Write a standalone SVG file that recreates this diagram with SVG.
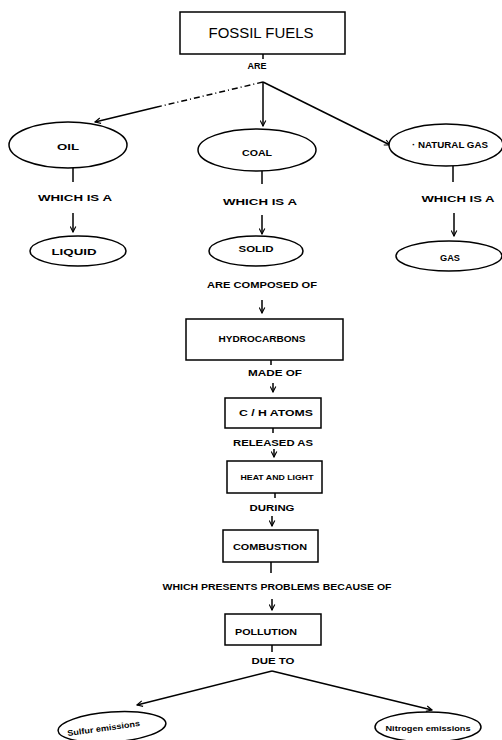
<svg xmlns="http://www.w3.org/2000/svg" width="502" height="740" viewBox="0 0 502 740">
<defs>
<marker id="ah" viewBox="0 0 10 10" refX="9" refY="5" markerWidth="7" markerHeight="7" orient="auto" markerUnits="userSpaceOnUse">
<path d="M1,1 L9,5 L1,9" fill="none" stroke="#000" stroke-width="1.6"/>
</marker>
</defs>
<style>
.n{fill:#fff;stroke:#000;stroke-width:1.5}
.c{fill:none;stroke:#000;stroke-width:1.5}
.t{font-family:"Liberation Sans",Arial,sans-serif;font-weight:bold;font-size:9px;fill:#000;text-anchor:middle}
.big{font-family:"Liberation Sans",Arial,sans-serif;font-size:14px;fill:#000;text-anchor:middle}
</style>
<rect width="502" height="740" fill="#fff"/>
<g id="connectors">
<line class="c" x1="263" y1="54" x2="263" y2="59"/>
<line class="c" x1="263" y1="82" x2="157" y2="107" stroke-dasharray="6,3,1,3"/>
<line class="c" x1="157" y1="107" x2="95" y2="122" marker-end="url(#ah)"/>
<line class="c" x1="263" y1="82" x2="263" y2="126" marker-end="url(#ah)"/>
<line class="c" x1="263" y1="82" x2="390" y2="145" marker-end="url(#ah)"/>
<line class="c" x1="73" y1="168" x2="73" y2="182"/>
<line class="c" x1="73" y1="213" x2="73" y2="232" marker-end="url(#ah)"/>
<line class="c" x1="262" y1="171" x2="262" y2="184"/>
<line class="c" x1="262" y1="215" x2="262" y2="234" marker-end="url(#ah)"/>
<line class="c" x1="453" y1="166" x2="453" y2="182"/>
<line class="c" x1="454" y1="213" x2="454" y2="236" marker-end="url(#ah)"/>
<line class="c" x1="262" y1="300" x2="262" y2="313" marker-end="url(#ah)"/>
<line class="c" x1="271" y1="360" x2="271" y2="365"/>
<line class="c" x1="273" y1="383" x2="273" y2="392" marker-end="url(#ah)"/>
<line class="c" x1="273" y1="428" x2="273" y2="433"/>
<line class="c" x1="274" y1="449" x2="274" y2="457" marker-end="url(#ah)"/>
<line class="c" x1="275" y1="493" x2="275" y2="498"/>
<line class="c" x1="272" y1="516" x2="272" y2="526" marker-end="url(#ah)"/>
<line class="c" x1="271" y1="562" x2="271" y2="573"/>
<line class="c" x1="272" y1="599" x2="272" y2="610" marker-end="url(#ah)"/>
<line class="c" x1="272" y1="645" x2="272" y2="652"/>
<line class="c" x1="272" y1="671" x2="137" y2="705" marker-end="url(#ah)"/>
<line class="c" x1="272" y1="671" x2="432" y2="710" marker-end="url(#ah)"/>
</g>
<g id="labels">
<text class="t" x="257" y="69" textLength="19" lengthAdjust="spacingAndGlyphs">ARE</text>
<text class="t" x="75" y="201" textLength="74" lengthAdjust="spacingAndGlyphs">WHICH IS A</text>
<text class="t" x="260" y="205" textLength="74" lengthAdjust="spacingAndGlyphs">WHICH IS A</text>
<text class="t" x="458" y="202" textLength="73" lengthAdjust="spacingAndGlyphs">WHICH IS A</text>
<text class="t" x="262" y="288" textLength="110" lengthAdjust="spacingAndGlyphs">ARE COMPOSED OF</text>
<text class="t" x="275" y="376" textLength="54" lengthAdjust="spacingAndGlyphs">MADE OF</text>
<text class="t" x="273" y="446" textLength="80" lengthAdjust="spacingAndGlyphs">RELEASED AS</text>
<text class="t" x="272" y="511" textLength="45" lengthAdjust="spacingAndGlyphs">DURING</text>
<text class="t" x="277" y="590" textLength="229" lengthAdjust="spacingAndGlyphs">WHICH PRESENTS PROBLEMS BECAUSE OF</text>
<text class="t" x="273" y="664" textLength="43" lengthAdjust="spacingAndGlyphs">DUE TO</text>
</g>
<g id="fossil-fuels">
<rect class="n" x="180" y="12" width="165" height="42"/>
<text class="big" x="261" y="38" textLength="105" lengthAdjust="spacingAndGlyphs">FOSSIL FUELS</text>
</g>
<g id="oil">
<ellipse class="n" cx="68" cy="145" rx="59" ry="23"/>
<text class="t" x="68" y="150" textLength="22" lengthAdjust="spacingAndGlyphs">OIL</text>
</g>
<g id="coal">
<ellipse class="n" cx="257" cy="150" rx="59" ry="21"/>
<text class="t" x="257" y="156" textLength="30" lengthAdjust="spacingAndGlyphs">COAL</text>
</g>
<g id="natural-gas">
<ellipse class="n" cx="446" cy="145" rx="57" ry="21"/>
<text class="t" x="450" y="148" textLength="76" lengthAdjust="spacingAndGlyphs">· NATURAL GAS</text>
</g>
<g id="liquid">
<ellipse class="n" cx="78" cy="251" rx="48" ry="15"/>
<text class="t" x="74" y="255" textLength="45" lengthAdjust="spacingAndGlyphs">LIQUID</text>
</g>
<g id="solid">
<ellipse class="n" cx="256" cy="251" rx="47" ry="15"/>
<text class="t" x="256" y="252" textLength="35" lengthAdjust="spacingAndGlyphs">SOLID</text>
</g>
<g id="gas">
<ellipse class="n" cx="449" cy="256" rx="53" ry="15"/>
<text class="t" x="450" y="261" textLength="20" lengthAdjust="spacingAndGlyphs">GAS</text>
</g>
<g id="hydrocarbons">
<rect class="n" x="186" y="319" width="157" height="41"/>
<text class="t" x="262" y="342" textLength="87" lengthAdjust="spacingAndGlyphs">HYDROCARBONS</text>
</g>
<g id="ch-atoms">
<rect class="n" x="225" y="398" width="96" height="30"/>
<text class="t" x="276" y="416" textLength="74" lengthAdjust="spacingAndGlyphs">C / H ATOMS</text>
</g>
<g id="heat-and-light">
<rect class="n" x="227" y="461" width="95" height="32"/>
<text class="t" x="277" y="480" textLength="73" lengthAdjust="spacingAndGlyphs" style="font-size:7.5px">HEAT AND LIGHT</text>
</g>
<g id="combustion">
<rect class="n" x="223" y="530" width="95" height="32"/>
<text class="t" x="270" y="550" textLength="74" lengthAdjust="spacingAndGlyphs">COMBUSTION</text>
</g>
<g id="pollution">
<rect class="n" x="225" y="614" width="96" height="31"/>
<text class="t" x="266" y="635" textLength="62" lengthAdjust="spacingAndGlyphs">POLLUTION</text>
</g>
<g id="sulfur-emissions">
<ellipse class="n" cx="112" cy="727" rx="54" ry="15" transform="rotate(-4 112 727)"/>
<text class="t" x="104" y="731" textLength="73" lengthAdjust="spacingAndGlyphs" style="font-size:8px" transform="rotate(-8 104 731)">Sulfur emissions</text>
</g>
<g id="nitrogen-emissions">
<ellipse class="n" cx="428" cy="727" rx="53" ry="15"/>
<text class="t" x="428" y="731" textLength="85" lengthAdjust="spacingAndGlyphs" style="font-size:8px">Nitrogen emissions</text>
</g>
</svg>
